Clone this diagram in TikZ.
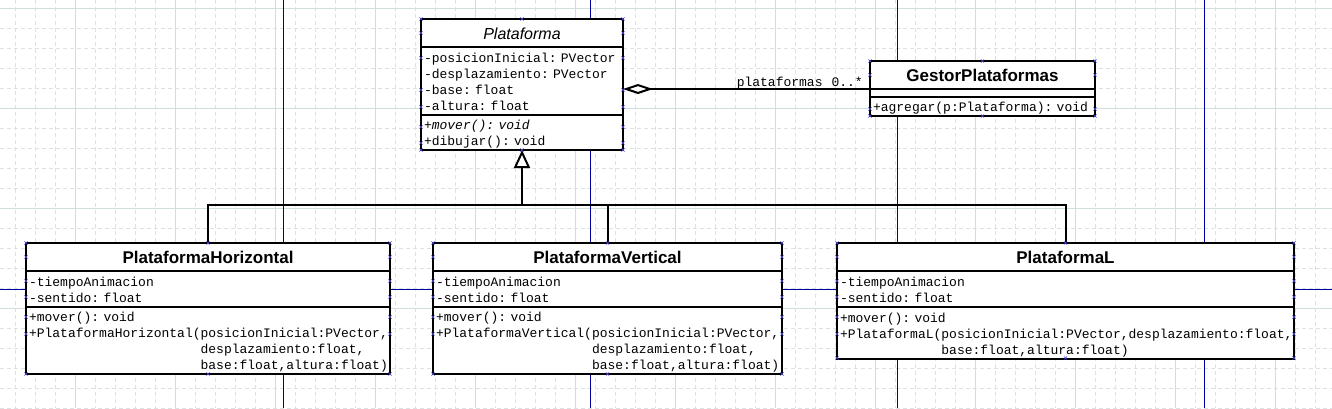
\documentclass[tikz,border=0pt]{standalone}
\usepackage{fontspec}
\setmainfont{Liberation Sans}
\setsansfont{Liberation Sans}
\setmonofont{Liberation Mono}
\usepackage{tikz}
\usetikzlibrary{positioning,arrows.meta,calc}
\definecolor{gridmaj}{RGB}{208,222,220}
\definecolor{gridmin}{RGB}{218,226,226}
\definecolor{pageblue}{RGB}{0,0,160}
\definecolor{handle}{RGB}{70,70,225}
\newcommand{\umlfont}{\fontsize{13}{16}\selectfont\ttfamily}
\newcommand{\topstrut}{\rule{0pt}{13pt}}
\newcommand{\botstrut}{\rule[-3pt]{0pt}{3pt}}
\newcommand{\hx}[1]{\draw[hxs] (#1) +(-1.6,-1.6) -- +(1.6,1.6) +(-1.6,1.6) -- +(1.6,-1.6);}
\hyphenpenalty=10000
\exhyphenpenalty=10000

\begin{document}
\begin{tikzpicture}[
  x=1pt, y=-1pt,
  cls/.style={draw, fill=white, line width=2pt, outer sep=0pt, inner ysep=0pt, inner xsep=3pt},
  ttl/.style={cls, minimum height=28pt, align=center, text height=12.2pt, text depth=0pt, font=\fontsize{17}{20}\selectfont\sffamily\bfseries},
  sec/.style={cls, align=left, font=\umlfont, execute at begin node=\topstrut, execute at end node=\botstrut},
  conn/.style={line width=2pt},
  inh/.style={conn, -{Triangle[length=18pt, width=16pt, fill=white]}},
  agg/.style={conn, {Diamond[length=30pt, width=10pt, fill=white]}-},
  lbl/.style={font=\umlfont, inner sep=0pt},
  grd/.style={gridmin, line width=0.8pt, dash pattern=on 4pt off 3pt},
  grdmaj/.style={gridmaj, line width=0.9pt},
  pgline/.style={pageblue, line width=1pt},
  hxs/.style={draw=handle, line width=0.6pt}
]
\useasboundingbox (0,0) rectangle (1332,408);
\fill[white] (0,0) rectangle (1332,408);
% grid and page breaks
\foreach \gx in {15,35,...,1335} \draw[grd] (\gx,0) -- (\gx,408);
\foreach \gy in {8,28,...,408} \draw[grd] (0,\gy) -- (1332,\gy);
\foreach \gx in {75,175,...,1275} \draw[grdmaj] (\gx,0) -- (\gx,408);
\foreach \gy in {8,108,...,308} \draw[grdmaj] (0,\gy) -- (1332,\gy);
\foreach \px in {283,590,897,1204} \draw[pgline] (\px,0) -- (\px,408);
\draw[pgline] (0,289) -- (1332,289);

% Plataforma (abstract)
\node[ttl, text width=196pt, anchor=north west, font=\fontsize{16}{20}\selectfont\sffamily\itshape] (plat) at (421,19) {Plataforma};
\node[sec, text width=196pt, minimum height=68pt, below=0pt of plat] (plat-a) {-posicionInicial:~PVector\\-desplazamiento:~PVector\\-base:~float\\-altura:~float};
\node[sec, text width=196pt, minimum height=35pt, below=0pt of plat-a] (plat-m) {\textit{+mover():~void}\\+dibujar():~void};

% GestorPlataformas
\node[ttl, text width=219pt, anchor=north west] (gest) at (870,61) {GestorPlataformas};
\node[cls, minimum width=225pt, minimum height=8pt, below=0pt of gest] (gest-a) {};
\node[sec, text width=219pt, minimum height=19pt, below=0pt of gest-a] (gest-m) {+agregar(p:Plataforma):~void};

% subclasses
\node[ttl, text width=358pt, anchor=north west] (phor) at (26,243) {PlataformaHorizontal};
\node[sec, text width=358pt, minimum height=36pt, below=0pt of phor] (phor-a) {-tiempoAnimacion\\-sentido:~float};
\node[sec, text width=358pt, minimum height=67pt, below=0pt of phor-a] (phor-m) {+mover():~void\\+PlataformaHorizontal(posicionInicial:PVector,\\\phantom{+PlataformaHorizontal(}desplazamiento:float,\\\phantom{+PlataformaHorizontal(}base:float,altura:float)};

\node[ttl, text width=343pt, anchor=north west] (pver) at (433,243) {PlataformaVertical};
\node[sec, text width=343pt, minimum height=36pt, below=0pt of pver] (pver-a) {-tiempoAnimacion\\-sentido:~float};
\node[sec, text width=343pt, minimum height=67pt, below=0pt of pver-a] (pver-m) {+mover():~void\\+PlataformaVertical(posicionInicial:PVector,\\\phantom{+PlataformaVertical(}desplazamiento:float,\\\phantom{+PlataformaVertical(}base:float,altura:float)};

\node[ttl, text width=451pt, anchor=north west] (plL) at (837,243) {PlataformaL};
\node[sec, text width=451pt, minimum height=36pt, below=0pt of plL] (plL-a) {-tiempoAnimacion\\-sentido:~float};
\node[sec, text width=451pt, minimum height=52pt, below=0pt of plL-a] (plL-m) {+mover():~void\\+PlataformaL(posicionInicial:PVector,desplazamiento:float,\\\phantom{+PlataformaL(}base:float,altura:float)};

% generalization
\coordinate[below=55pt of plat-m] (bus);
\draw[inh] (phor.north) |- (bus) -| (plat-m.south);
\draw[conn] (pver.north) |- (bus);
\draw[conn] (plL.north) |- (bus);

% aggregation
\draw[agg] (plat-a.east |- gest.south west) -- (gest.south west);
\node[lbl, anchor=base east] (role) at ($(gest.south west)+(-7,-3)$) {plataformas\hspace{9pt}0..*};

% selection handles
\foreach \yy in {19,33,58,90,107,127,143,150} {\hx{421,\yy}\hx{623,\yy}}
\foreach \yy in {19,150} {\hx{522,\yy}}
\foreach \yy in {61,75,109,116} {\hx{870,\yy}\hx{1095,\yy}}
\foreach \yy in {61,116} {\hx{982.5,\yy}}
\foreach \yy in {243,257,281,297,317,334,374} {\hx{26,\yy}\hx{390,\yy}\hx{433,\yy}\hx{782,\yy}}
\foreach \yy in {243,257,281,297,317,334,358} {\hx{837,\yy}\hx{1294,\yy}}
\foreach \yy in {243,374} {\hx{208,\yy}\hx{607.5,\yy}}
\foreach \yy in {243,358} {\hx{1065.5,\yy}}
\end{tikzpicture}
\end{document}
